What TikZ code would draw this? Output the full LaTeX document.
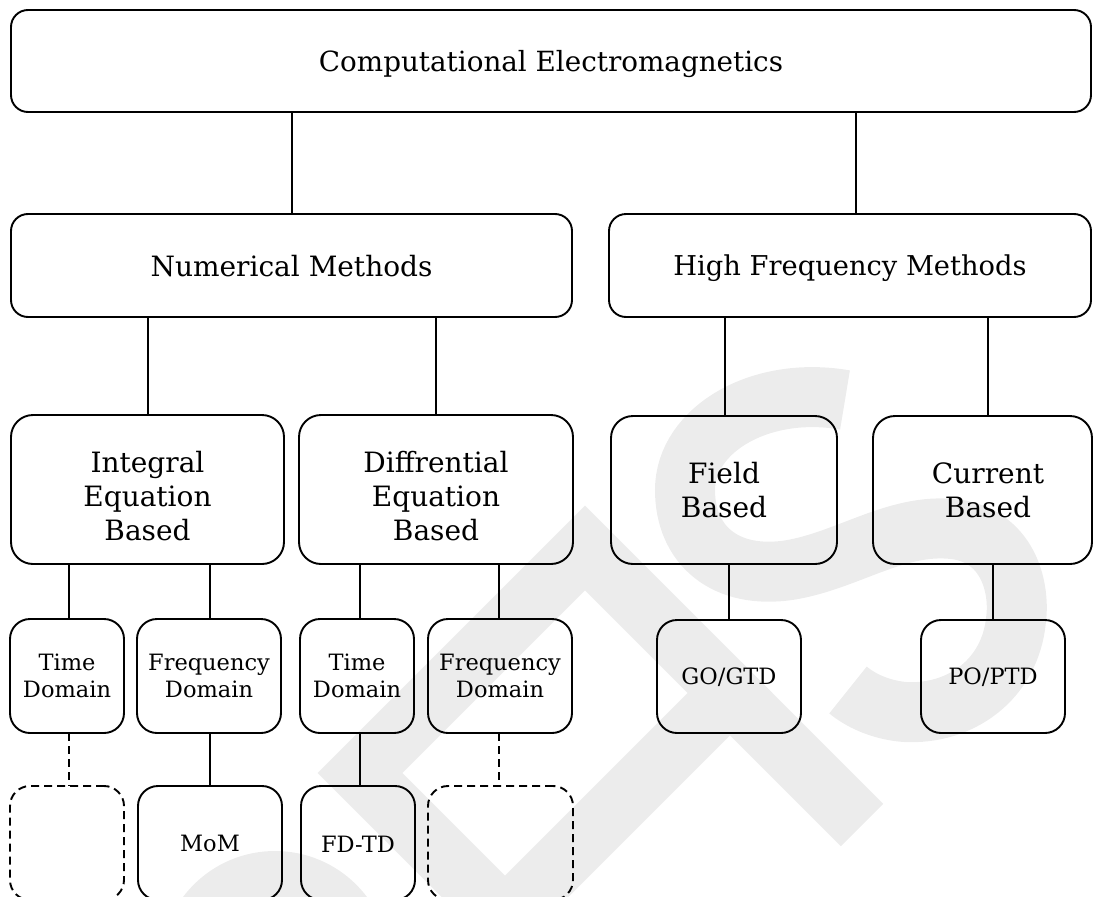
\documentclass[tikz,border=0pt]{standalone}
\usepackage{fontspec}
\setmainfont{DejaVu Serif}
\definecolor{wm}{RGB}{236,236,236}
\begin{document}
\begin{tikzpicture}[x=1pt,y=-1pt,
  bx/.style={draw=black, line width=1.9pt, inner sep=0pt, outer sep=0pt, align=center},
  lvA/.style={bx, rounded corners=17pt, text depth=0pt, font=\fontsize{28}{34}\selectfont},
  lvB/.style={bx, rounded corners=22pt, font=\fontsize{28}{34}\selectfont},
  lvC/.style={bx, rounded corners=20pt, minimum height=114pt, font=\fontsize{22.5}{27}\selectfont},
  ghost/.style={lvC, dash pattern=on 8pt off 5pt},
  conn/.style={draw=black, line width=2pt},
  dconn/.style={conn, dash pattern=on 8pt off 5pt},
  wmark/.style={draw=wm, line width=60pt}]
\useasboundingbox (0,0) rectangle (1093,897);
% watermark
\draw[wmark, line cap=butt] (845,400) .. controls (760,385) and (685,430) .. (685,490)
  .. controls (685,545) and (725,580) .. (790,570)
  .. controls (850,560) and (900,520) .. (960,530)
  .. controls (1010,540) and (1020,590) .. (1016,620)
  .. controls (1010,680) and (960,715) .. (905,712)
  .. controls (880,710) and (860,700) .. (848,690);
\draw[wmark, line join=miter] (360,773) -- (585,548) -- (730,693) -- (505,918) -- cycle;
\draw[wmark, line cap=butt] (720,683) -- (862,825);
\draw[wmark] (275,966) circle[radius=85];
% nodes
\node[lvA, minimum width=1080pt, minimum height=102pt, font=\fontsize{27.8}{32}\selectfont] (top) at (551,61) {Computational Electromagnetics};
\node[lvA, minimum width=561pt, minimum height=103pt] (num) at (291.5,265.5) {Numerical Methods};
\node[lvA, minimum width=482pt, minimum height=103pt, font=\fontsize{27.3}{32}\selectfont] (hf) at (850,265.5) {High Frequency Methods};
\node[lvB, minimum width=273pt, minimum height=149pt] (integ) at (147.5,489.5) {\rule{0pt}{35pt}Integral\\Equation\\Based};
\node[lvB, minimum width=274pt, minimum height=149pt] (diff) at (436,489.5) {\rule{0pt}{35pt}Diffrential\\Equation\\Based};
\node[lvB, minimum width=226pt, minimum height=148pt] (field) at (724,490) {Field\\Based};
\node[lvB, minimum width=219pt, minimum height=148pt] (curr) at (982.5,490) {\hspace*{11pt}Current\\\hspace*{11pt}Based};
\node[lvC, minimum width=114pt] (td1) at (67,676) {Time\\Domain};
\node[lvC, minimum width=144pt] (fd1) at (209,676) {Frequency\\Domain};
\node[lvC, minimum width=114pt] (td2) at (357,676) {Time\\Domain};
\node[lvC, minimum width=144pt] (fd2) at (500,676) {Frequency\\Domain};
\node[lvC, minimum width=144pt, minimum height=113pt, text depth=0pt] (go) at (729,676.5) {GO/GTD};
\node[lvC, minimum width=144pt, minimum height=113pt, text depth=0pt] (po) at (993,676.5) {PO/PTD};
\node[ghost, minimum width=114pt] (e1) at (67,843) {};
\node[lvC, minimum width=144pt, text depth=0pt] (mom) at (210,843) {MoM};
\node[lvC, minimum width=114pt, text depth=0pt] (fdtd) at (358,843) {\raisebox{-2pt}{FD-TD}};
\node[ghost, minimum width=145pt] (e2) at (500.5,843) {};
% connector columns
\coordinate (k1) at (292,0);
\coordinate (k2) at (856,0);
\coordinate (k3) at (148,0);
\coordinate (k4) at (436,0);
\coordinate (k5) at (725,0);
\coordinate (k6) at (988,0);
\coordinate (k7) at (69,0);
\coordinate (k8) at (210,0);
\coordinate (k9) at (360,0);
\coordinate (k10) at (499,0);
\coordinate (k11) at (729,0);
\coordinate (k12) at (993,0);
\draw[conn] (top.south -| k1) -- (num.north -| k1);
\draw[conn] (top.south -| k2) -- (hf.north -| k2);
\draw[conn] (num.south -| k3) -- (integ.north -| k3);
\draw[conn] (num.south -| k4) -- (diff.north -| k4);
\draw[conn] (hf.south -| k5) -- (field.north -| k5);
\draw[conn] (hf.south -| k6) -- (curr.north -| k6);
\draw[conn] (integ.south -| k7) -- (td1.north -| k7);
\draw[conn] (integ.south -| k8) -- (fd1.north -| k8);
\draw[conn] (diff.south -| k9) -- (td2.north -| k9);
\draw[conn] (diff.south -| k10) -- (fd2.north -| k10);
\draw[conn] (field.south -| k11) -- (go.north -| k11);
\draw[conn] (curr.south -| k12) -- (po.north -| k12);
\draw[dconn] (td1.south -| k7) -- (e1.north -| k7);
\draw[conn] (fd1.south -| k8) -- (mom.north -| k8);
\draw[conn] (td2.south -| k9) -- (fdtd.north -| k9);
\draw[dconn] (fd2.south -| k10) -- (e2.north -| k10);
\end{tikzpicture}
\end{document}
